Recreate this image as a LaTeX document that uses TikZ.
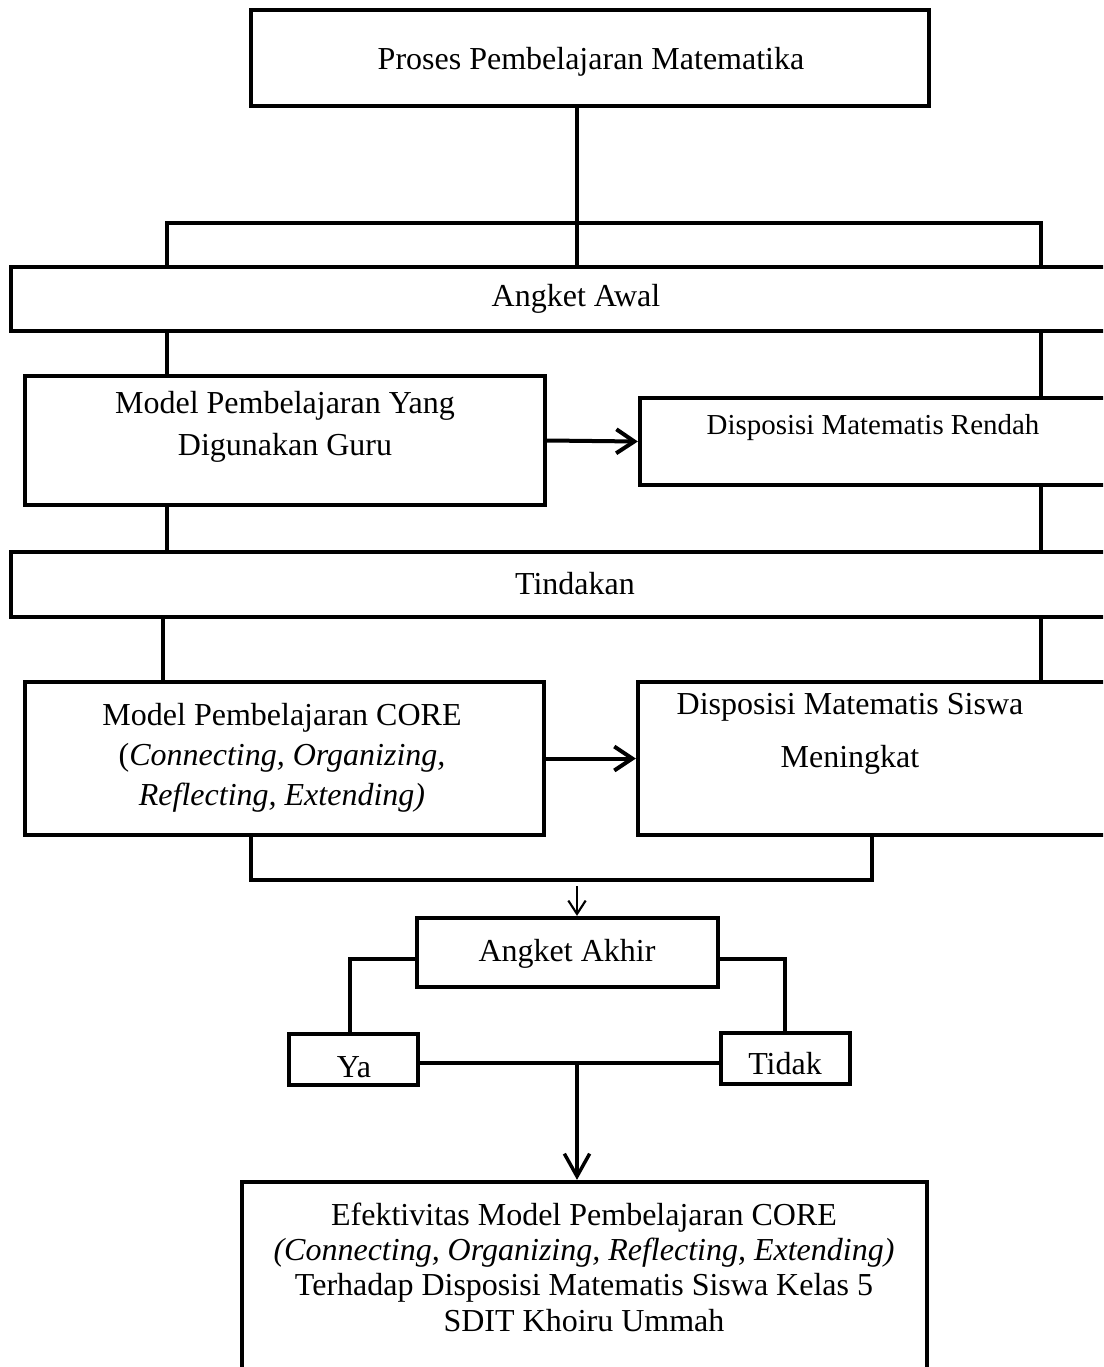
\documentclass[tikz,border=0pt]{standalone}
\usepackage{fontspec}
\setmainfont{Liberation Serif}
\usetikzlibrary{fit,arrows.meta}
\begin{document}
\begin{tikzpicture}[x=0.75pt,y=-0.75pt,
  box/.style={draw,line width=3.2pt,inner sep=0pt,fill=none},
  txt/.style={inner sep=0pt,align=center,font=\fontsize{24}{30}\selectfont},
  conn/.style={line width=2.4pt},
  arr/.style={line width=3pt,-{Straight Barb[length=13.5pt,width=18pt,line width=3pt]}},
  thinarr/.style={line width=1.6pt,-{Straight Barb[length=10pt,width=13pt,line width=1.6pt]}},
  downarr/.style={line width=2.4pt,-{Straight Barb[length=17pt,width=19pt,line width=2.6pt]}}]
\path[use as bounding box,clip] (0,0) rectangle (1103,1367);
\fill[white] (0,0) rectangle (1103,1367);
% boxes
\node[box,fit={(251,10)(929,106)}] (top) {};
\node[txt] (topT) at (591,62) {Proses Pembelajaran Matematika};
\node[box,fit={(11,267)(1141,331)}] (awal) {};
\node[txt] (awalT) at (576,299) {Angket Awal};
\node[box,fit={(25,376)(545,505)}] (yang) {};
\node[txt,font=\fontsize{24}{31}\selectfont] (yangT) at (285,427) {Model Pembelajaran Yang\\Digunakan Guru};
\node[box,fit={(640,398)(1130,485)}] (rendah) {};
\node[txt,font=\fontsize{21.7}{27}\selectfont] (rendahT) at (873,428) {Disposisi Matematis Rendah};
\node[box,fit={(11,552)(1139,617)}] (tind) {};
\node[txt] (tindT) at (575,584) {Tindakan};
\node[box,fit={(25,682)(544,835)}] (core) {};
\node[txt] (coreT) at (282,758) {Model Pembelajaran CORE\\(\textit{Connecting, Organizing,}\\\textit{Reflecting, Extending)}};
\node[box,fit={(638,682)(1130,835)}] (siswa) {};
\node[txt,font=\fontsize{24}{39.75}\selectfont] (siswaT) at (850,734) {Disposisi Matematis Siswa\\Meningkat};
\node[box,fit={(417,918)(718,987)}] (akhir) {};
\node[txt] (akhirT) at (567,954) {Angket Akhir};
\node[box,fit={(289,1034)(418,1085)}] (ya) {};
\node[txt] (yaT) at (354,1067) {Ya};
\node[box,fit={(721,1033)(850,1084)}] (tidak) {};
\node[txt] (tidakT) at (785,1064) {Tidak};
\node[box,fit={(242,1182)(927,1420)}] (final) {};
\node[txt,font=\fontsize{24}{26.5}\selectfont] (finalT) at (584,1267) {Efektivitas Model Pembelajaran CORE\\\textit{(Connecting, Organizing, Reflecting, Extending)}\\Terhadap Disposisi Matematis Siswa Kelas 5\\SDIT Khoiru Ummah};
% coordinates
\coordinate (xm) at (577,223);
\coordinate (xl) at (167,223);
\coordinate (xr) at (1041,223);
\coordinate (xl2) at (163,600);
\coordinate (bl) at (251,880);
\coordinate (br) at (872,880);
\coordinate (ab) at (577,886);
\coordinate (yl) at (350,959);
\coordinate (yr) at (785,959);
\coordinate (ym) at (577,1063);
% connectors
\draw[conn] (top.south -| xm) -- (awal.north -| xm);
\draw[conn] (awal.north -| xl) -- (xl) -- (xr) -- (awal.north -| xr);
\draw[conn] (awal.south -| xl) -- (yang.north -| xl);
\draw[conn] (awal.south -| xr) -- (rendah.north -| xr);
\draw[conn] (yang.south -| xl) -- (tind.north -| xl);
\draw[conn] (rendah.south -| xr) -- (tind.north -| xr);
\draw[arr] (yang.east) -- (rendah.west);
\draw[conn] (tind.south -| xl2) -- (core.north -| xl2);
\draw[conn] (tind.south -| xr) -- (siswa.north -| xr);
\draw[arr] (core.east |- siswa.west) -- (siswa.west);
\draw[conn] (core.south -| bl) -- (bl) -- (br) -- (siswa.south -| br);
\draw[thinarr] (ab) -- (akhir.north -| ab);
\draw[conn] (akhir.west |- yl) -- (yl) -- (ya.north -| yl);
\draw[conn] (akhir.east |- yr) -- (yr) -- (tidak.north -| yr);
\draw[conn] (ya.east |- ym) -- (tidak.west |- ym);
\draw[downarr] (ym) -- (final.north -| ym);
\end{tikzpicture}
\end{document}
